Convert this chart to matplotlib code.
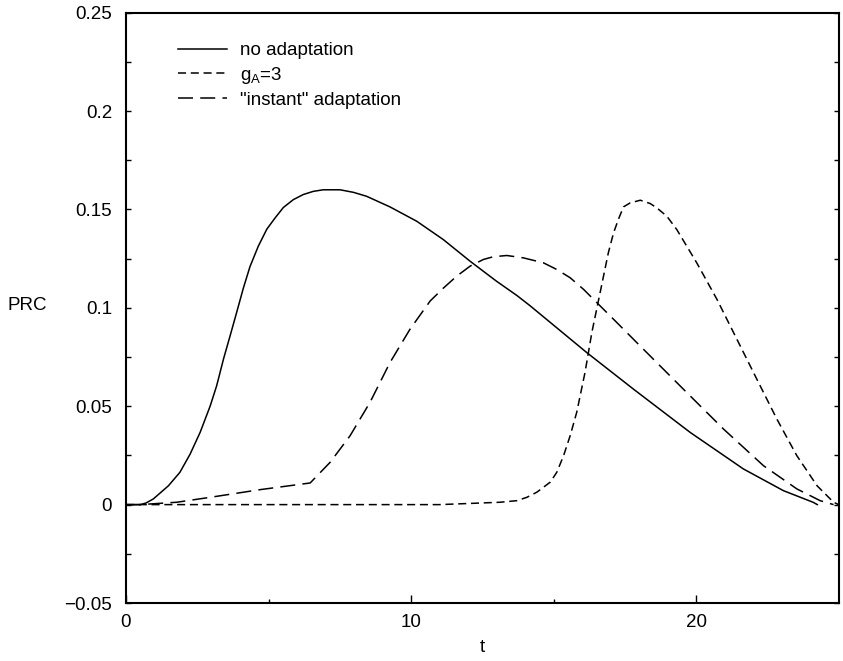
import matplotlib
matplotlib.use("Agg")
import matplotlib.pyplot as plt
from matplotlib.ticker import MultipleLocator, FixedLocator

plt.rcParams['font.family'] = ['Liberation Sans', 'DejaVu Sans']
plt.rcParams['lines.scale_dashes'] = False

# no adaptation
t_no = [0, 0.5, 0.7, 0.96, 1.49, 1.89, 2.25, 2.60, 2.95, 3.18, 3.42, 3.65, 3.88, 4.12,
        4.35, 4.64, 4.94, 5.23, 5.52, 5.87, 6.22, 6.57, 6.92, 7.51, 7.98, 8.44, 9.26,
        10.2, 11.13, 12.07, 13.0, 13.71, 14.18, 16.16, 17.8, 19.79, 21.66, 23.06, 24.1,
        24.25]
prc_no = [0, 0, 0.0008, 0.0029, 0.0096, 0.0164, 0.0257, 0.0367, 0.050, 0.0604, 0.074,
          0.0857, 0.0976, 0.1102, 0.121, 0.1313, 0.140, 0.1457, 0.151, 0.155, 0.1576,
          0.1592, 0.160, 0.160, 0.1587, 0.1567, 0.1513, 0.144, 0.1347, 0.1237, 0.1135,
          0.1063, 0.101, 0.0773, 0.0587, 0.0367, 0.0181, 0.0071, 0.0012, 0.0]

# g_A = 3
t_ga = [0, 11.0, 13.12, 13.71, 14.06, 14.41, 14.88, 15.11, 15.35, 15.58, 15.81, 16.1,
        16.34, 16.63, 16.92, 17.1, 17.27, 17.45, 17.68, 18.04, 18.39, 18.62, 18.97,
        19.32, 20.02, 20.73, 21.43, 22.13, 22.83, 23.53, 24.24, 24.82, 25.0]
prc_ga = [0, 0, 0.0012, 0.002, 0.0037, 0.0063, 0.0114, 0.0164, 0.0249, 0.035, 0.0469,
          0.0671, 0.0874, 0.1077, 0.128, 0.138, 0.1449, 0.1513, 0.1533, 0.1547, 0.153,
          0.1508, 0.1466, 0.1398, 0.1229, 0.1043, 0.084, 0.0637, 0.0435, 0.0249, 0.0096,
          0.0012, 0.0]

# "instant" adaptation
t_in = [0, 0.5, 1.78, 2.95, 4.7, 6.46, 7.16, 7.86, 8.56, 9.26, 9.96, 10.67, 11.13, 11.6,
        12.07, 12.54, 12.89, 13.36, 13.94, 14.64, 15.11, 15.58, 16.05, 16.52, 17.22,
        17.92, 19.55, 20.96, 22.36, 23.53, 24.35, 24.82]
prc_in = [0, 0, 0.0012, 0.0037, 0.0076, 0.011, 0.0215, 0.035, 0.052, 0.0722, 0.0891,
          0.1035, 0.110, 0.1161, 0.1212, 0.1246, 0.126, 0.1266, 0.1254, 0.1229, 0.1195,
          0.1153, 0.1094, 0.1026, 0.0925, 0.0823, 0.0587, 0.0384, 0.0198, 0.008, 0.002,
          0.0]

labels = ['no adaptation', r'g$_{\mathregular{A}}$=3', '"instant" adaptation']
xticks = [0, 10, 20]
yticks = [-0.05, 0, 0.05, 0.1, 0.15, 0.2, 0.25]
yticklabels = ['\u22120.05', '0', '0.05', '0.1', '0.15', '0.2', '0.25']

fig = plt.figure(figsize=(8.43, 6.61), dpi=100)
ax = fig.add_axes([126/843, 1-603/661, (838.7-126)/843, (603-12.7)/661])

lw = 1.1
ax.plot(t_no, prc_no, color='black', lw=lw, label=labels[0])
ax.plot(t_ga, prc_ga, color='black', lw=lw, dashes=(5.8, 3.4), label=labels[1])
ax.plot(t_in, prc_in, color='black', lw=lw, dashes=(10.8, 5.2), label=labels[2])

ax.set_xlim(0, 25)
ax.set_ylim(-0.05, 0.25)
ax.xaxis.set_major_locator(FixedLocator(xticks))
ax.xaxis.set_minor_locator(FixedLocator([5, 15]))
ax.set_yticks(yticks)
ax.yaxis.set_minor_locator(MultipleLocator(0.025))
ax.set_yticklabels(yticklabels)
ax.set_xticklabels([str(v) for v in xticks])

fs = 13.5
ax.tick_params(axis='x', which='major', direction='in', length=6, width=1.0,
               labelsize=fs, pad=8, top=False)
ax.tick_params(axis='x', which='minor', direction='in', length=3, width=1.0, top=False)
ax.tick_params(axis='y', which='both', direction='in', length=3.8, width=1.0,
               labelsize=fs, pad=10, right=True)
for s in ax.spines.values():
    s.set_linewidth(1.5)

ax.set_xlabel('t', fontsize=fs)
ax.xaxis.set_label_coords(0.5, -(648-603)/590.3, transform=ax.transAxes)
ax.xaxis.label.set_va('center')
ax.set_ylabel('PRC', fontsize=fs, rotation=0, va='center', ha='center')
ax.yaxis.set_label_coords((27-126)/712.7, (603-305)/590.3, transform=ax.transAxes)

leg = ax.legend(loc='upper left', bbox_to_anchor=((178-126)/712.7, (603-42.3)/590.3),
                frameon=False, fontsize=fs, handlelength=2.6, handletextpad=0.7,
                labelspacing=0.3, borderpad=0, borderaxespad=0)

fig.savefig('out.png', dpi=100)
